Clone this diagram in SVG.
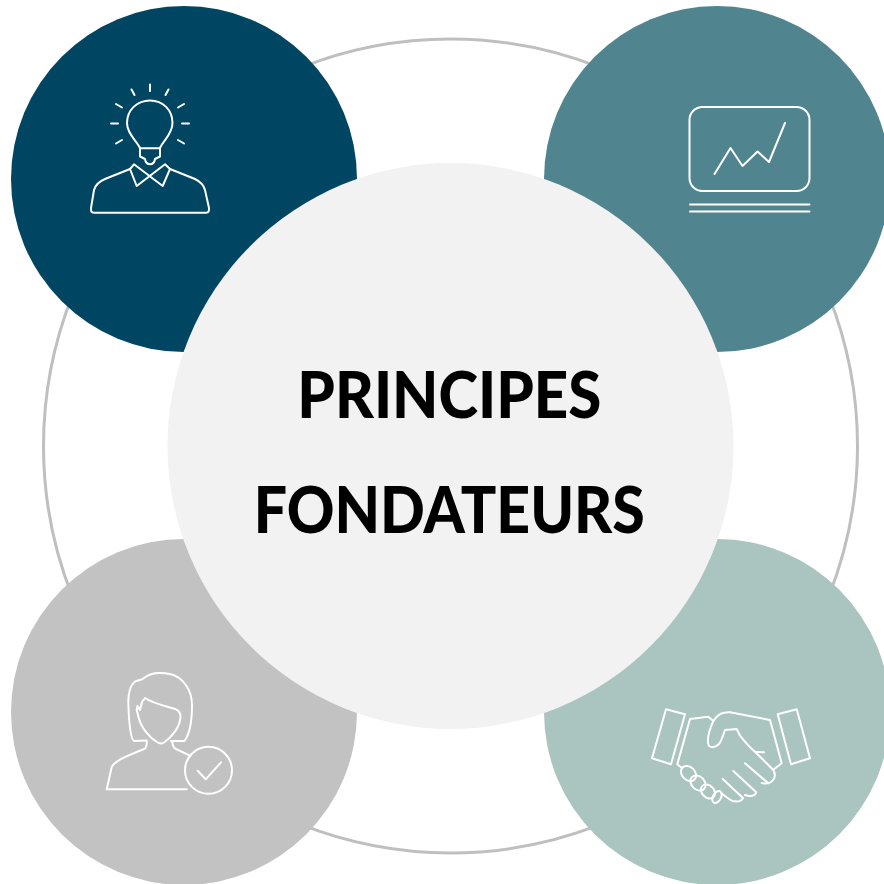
<svg xmlns="http://www.w3.org/2000/svg" width="884" height="884" viewBox="0 0 884 884">
<style>
.ic{fill:none;stroke:#fff;stroke-width:2;stroke-linejoin:round;stroke-linecap:round}
.t{font-family:"Lato","Liberation Sans",Arial,sans-serif;font-weight:900;font-size:64px;fill:#000;text-anchor:middle}
</style>
<rect width="884" height="884" fill="#fff"/>
<g id="connectors"><circle cx="450.500" cy="446" r="407" fill="#fff" stroke="#bfbfbf" stroke-width="3"/></g>
<g id="node-top-left"><circle cx="184" cy="179" r="173" fill="#004561"/>
<g class="ic">
<path d="M150 84.500V91M131.500 89.500L134.500 95M168.500 89.500L165.500 95M116 104L122 107.500M184 104L178 107.500M111 123.500H118M182 123.500H189M116 143.500L122 140M184 143.500L178 140"/>
<path d="M140 148C137 141 127 134 127 123C127 110 137 100.500 150 100.500C163 100.500 172.500 110 172.500 123C172.500 134 163 141 160 148V156.500L155 159C154 166 146 166 145 159L140 156.500Z"/>
<path d="M140 148.300H160"/>
<path d="M134 164.300L162.700 186L170 169L165 164.300L136.700 186L130 169Z"/>
<path d="M130 169L105 179C98 182 95 186 94 190L91 208C91 211 91 212.700 94 212.700H206C209 212.700 209 211 209 208L205 190C204 186 201 182 195 179L170 169"/>
</g></g>
<g id="node-top-right"><circle cx="717" cy="179" r="173" fill="#508590"/>
<g class="ic">
<rect x="689.500" y="107" width="120" height="84" rx="13"/>
<path d="M714.500 174L730.500 148L742.500 166L757.500 151.500L769 162L785 123"/>
<path d="M690 204.500H809.500M690 211.500H809.500"/>
</g></g>
<g id="node-bottom-left"><circle cx="184" cy="712" r="173" fill="#c2c2c2"/>
<g class="ic">
<path d="M146.700 740.500L134 741C131 739 129 725 128.300 703C128.300 692 131 684 136 681C140 680 142 680 144 678C150 673 160 672 170 674C183 677 192 690 192 705C192 722 190 734 184.300 741H171"/>
<path d="M136.700 710L138.500 717C141 728 150 738 157 742C160 744 162 744 164 742.500C172 737 180 727 180.500 717C180.500 712 178 710 175 709C165 706 152 703 145 698L142 702L140 710L137.500 706Z"/>
<path d="M146.700 741.700C147 746 146 748 144 749C130 755 115 760 111.700 767L106.700 789.300H186.700"/>
<path d="M172.300 741.700C172.500 746 174 748 176 749L190 755.700"/>
<circle cx="208.500" cy="770.300" r="23.500"/>
<path d="M197.700 770.700L205.700 779.300L221 762.300"/>
</g></g>
<g id="node-bottom-right"><circle cx="717" cy="712" r="173" fill="#aac4bf"/>
<g class="ic">
<path d="M666 709.300L685 714.300L671 764.300L652 758.300ZM777.700 714.300L796.700 709.300L810 758.300L791 764.300Z"/>
<path d="M681.700 767.700L677.300 764.300L690 719L708.300 716.700L713.300 721"/>
<path d="M713.300 721C708 733 707 742 709 746C712 748 716 747 719 744C722 740 723 735 725 730L736.700 729L740 735.700C745 742 750 748 755 751.700C758 752 761 752 764 752.300"/>
<path d="M713.300 721C718 714 722 712 730 712.300L770 720L781.700 763.300L774.300 769"/>
<path d="M755 751.700L773.300 770C776 775 775 779 771 782C768 784 765 784 761.700 783"/>
<path d="M745 763.300L768.300 783.300M733.300 771L756 792C756 796 750 797 745 795M722.700 779L743 798C741 802 734 803 729 799L721 793"/>
<ellipse cx="688.500" cy="773.500" rx="8.500" ry="6.500" transform="rotate(45 688.500 773.500)"/>
<ellipse cx="698" cy="783" rx="8.500" ry="6.500" transform="rotate(45 698 783)"/>
<ellipse cx="708" cy="791.500" rx="8" ry="6" transform="rotate(45 708 791.500)"/>
<ellipse cx="717" cy="797" rx="6.500" ry="4" transform="rotate(-60 717 797)"/>
</g></g>
<g id="node-center"><circle cx="450.500" cy="446" r="283" fill="#f2f2f2"/>
<text class="t" x="449.300" y="417.500" textLength="304" lengthAdjust="spacingAndGlyphs">PRINCIPES</text>
<text class="t" x="449.300" y="533" textLength="391" lengthAdjust="spacingAndGlyphs">FONDATEURS</text>
</g>
</svg>
